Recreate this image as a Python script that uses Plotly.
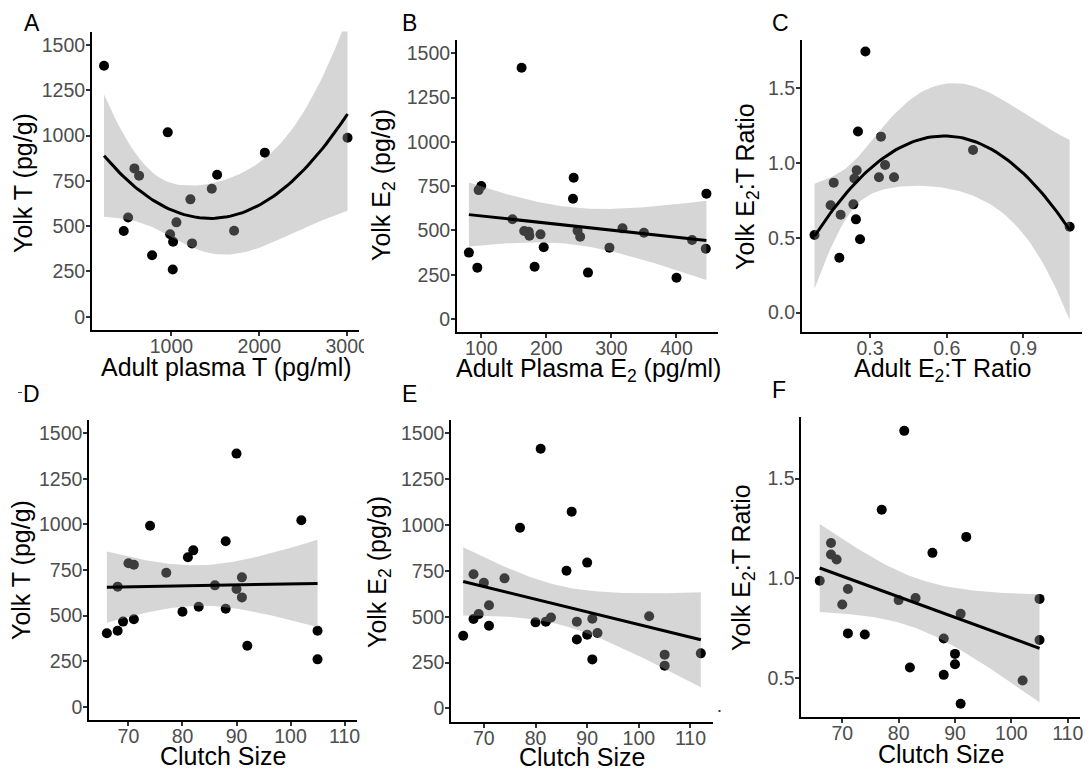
import numpy as np
import plotly.graph_objects as go

# ---------------- data ----------------
# Panel A: adult plasma T vs yolk T
a_plasma_t = [233, 457, 507, 579, 632, 780, 958, 985, 1019, 1015, 1057, 1216, 1235, 1459, 1520, 1713, 2063, 3004]
a_yolk_t = [1386, 473, 548, 819, 779, 339, 1018, 455, 414, 261, 521, 648, 405, 707, 784, 475, 906, 988]

# Panel B: adult plasma E2 vs yolk E2
b_plasma_e2 = [81, 94, 96, 100, 148, 162, 166, 173, 174, 182, 191, 196, 242, 241, 248, 252, 264, 297, 317, 350, 400, 424, 446, 445]
b_yolk_e2 = [375, 290, 728, 751, 563, 1419, 497, 493, 470, 295, 478, 405, 798, 679, 499, 465, 262, 403, 512, 487, 233, 446, 708, 397]

# Panel C: adult E2:T ratio vs yolk E2:T ratio
c_adult_ratio = [0.083, 0.146, 0.158, 0.180, 0.185, 0.235, 0.239, 0.245, 0.248, 0.253, 0.261, 0.282, 0.335, 0.343, 0.359, 0.394, 0.703, 1.081]
c_yolk_ratio = [0.519, 0.717, 0.868, 0.367, 0.654, 0.723, 0.895, 0.623, 0.950, 1.209, 0.490, 1.743, 0.904, 1.175, 0.986, 0.904, 1.086, 0.574]

# Panel D: clutch size vs yolk T
d_clutch = [66, 68, 69, 71, 68, 70, 71, 74, 77, 80, 81, 82, 83, 86, 88, 88, 90, 90, 91, 91, 92, 102, 105, 105]
d_yolk_t = [403, 417, 467, 480, 659, 787, 779, 993, 735, 521, 820, 858, 549, 666, 908, 538, 1389, 646, 710, 600, 335, 1023, 417, 260]

# Panel E: clutch size vs yolk E2
e_clutch = [66, 68, 68, 69, 70, 71, 71, 74, 77, 80, 81, 82, 83, 86, 87, 88, 88, 90, 90, 91, 91, 92, 102, 105, 105, 112]
e_yolk_e2 = [396, 731, 487, 514, 685, 562, 451, 709, 985, 469, 1416, 473, 496, 751, 1073, 473, 376, 795, 402, 489, 267, 411, 502, 293, 233, 300]

# Panel F: clutch size vs yolk E2:T ratio
f_clutch = [66, 68, 68, 69, 70, 71, 71, 74, 77, 80, 81, 82, 83, 86, 88, 88, 90, 90, 91, 91, 92, 102, 105, 105]
f_yolk_ratio = [0.987, 1.176, 1.119, 1.094, 0.868, 0.946, 0.723, 0.717, 1.343, 0.890, 1.739, 0.552, 0.900, 1.127, 0.697, 0.515, 0.620, 0.568, 0.821, 0.370, 1.207, 0.487, 0.896, 0.690]

# ---------------- helpers ----------------
def t975(df):
    z = 1.959963985
    g1 = (z**3 + z) / 4
    g2 = (5*z**5 + 16*z**3 + 3*z) / 96
    g3 = (3*z**7 + 19*z**5 + 17*z**3 - 15*z) / 384
    g4 = (79*z**9 + 776*z**7 + 1482*z**5 - 1920*z**3 - 945*z) / 92160
    return z + g1/df + g2/df**2 + g3/df**3 + g4/df**4

def lm_fit(x, y, degree):
    x = np.asarray(x, float); y = np.asarray(y, float)
    X = np.vander(x, degree + 1, increasing=True)
    beta, *_ = np.linalg.lstsq(X, y, rcond=None)
    resid = y - X @ beta
    df = len(x) - (degree + 1)
    s2 = resid @ resid / df
    XtXi = np.linalg.inv(X.T @ X)
    xs = np.linspace(x.min(), x.max(), 80)
    Xs = np.vander(xs, degree + 1, increasing=True)
    fit = Xs @ beta
    se = np.sqrt(np.einsum('ij,jk,ik->i', Xs, XtXi, Xs) * s2)
    t = t975(df)
    return xs, fit, fit - t*se, fit + t*se

W, H = 1089, 769
def xd(a, b): return [a / W, b / W]
def yd(top, bot): return [1 - bot / H, 1 - top / H]

YT = [0, 250, 500, 750, 1000, 1250, 1500]
panels = [
    dict(x=a_plasma_t, y=a_yolk_t, deg=2, xdom=xd(92, 359.3), ydom=yd(31.5, 330.3),
         xr=[96, 3138], yr=[-75, 1575], xt=[1000, 2000, 3000], yt=YT, ytxt=None,
         xtitle='Adult plasma T (pg/ml)', xtpos=(226, 367),
         ytitle='Yolk T (pg/g)', ytpos=(23, 183)),
    dict(x=b_plasma_e2, y=b_yolk_e2, deg=1, xdom=xd(457, 718.3), ydom=yd(40.1, 332.3),
         xr=[62.75, 464.25], yr=[-75, 1575], xt=[100, 200, 300, 400], yt=YT, ytxt=None,
         xtitle='Adult Plasma E<sub>2</sub> (pg/ml)', xtpos=(588, 370),
         ytitle='Yolk E<sub>2</sub> (pg/g)', ytpos=(383, 185)),
    dict(x=c_adult_ratio, y=c_yolk_ratio, deg=2, xdom=xd(802, 1081.7), ydom=yd(40, 332.3),
         xr=[0.034, 1.128], yr=[-0.131, 1.82], xt=[0.3, 0.6, 0.9], yt=[0, 0.5, 1.0, 1.5],
         ytxt=['0.0', '0.5', '1.0', '1.5'],
         xtitle='Adult E<sub>2</sub>:T Ratio', xtpos=(942, 370),
         ytitle='Yolk E<sub>2</sub>:T Ratio', ytpos=(747, 187)),
    dict(x=d_clutch, y=d_yolk_t, deg=1, xdom=xd(89.3, 356.7), ydom=yd(419.7, 720.4),
         xr=[62.75, 112.25], yr=[-75, 1575], xt=[70, 80, 90, 100, 110], yt=YT, ytxt=None,
         xtitle='Clutch Size', xtpos=(223, 756),
         ytitle='Yolk T (pg/g)', ytpos=(21, 570)),
    dict(x=e_clutch, y=e_yolk_e2, deg=1, xdom=xd(451.3, 712.7), ydom=yd(419.6, 722.1),
         xr=[63.7, 114.3], yr=[-75, 1575], xt=[70, 80, 90, 100, 110], yt=YT, ytxt=None,
         xtitle='Clutch Size', xtpos=(582, 757),
         ytitle='Yolk E<sub>2</sub> (pg/g)', ytpos=(379, 572)),
    dict(x=f_clutch, y=f_yolk_ratio, deg=1, xdom=xd(801.4, 1080.4), ydom=yd(417.3, 717.3),
         xr=[62.75, 112.25], yr=[0.302, 1.807], xt=[70, 80, 90, 100, 110], yt=[0.5, 1.0, 1.5],
         ytxt=['0.5', '1.0', '1.5'],
         xtitle='Clutch Size', xtpos=(941, 754),
         ytitle='Yolk E<sub>2</sub>:T Ratio', ytpos=(743, 568)),
]

FONT = 'Liberation Sans, Arial, Helvetica, sans-serif'
fig = go.Figure()
layout = dict(width=W, height=H, margin=dict(l=0, r=0, t=0, b=0, autoexpand=False),
              paper_bgcolor='white', plot_bgcolor='white', showlegend=False,
              font=dict(family=FONT, color='black'))
annotations = []

for i, p in enumerate(panels, start=1):
    xa = 'x' if i == 1 else f'x{i}'
    ya = 'y' if i == 1 else f'y{i}'
    # points first
    fig.add_trace(go.Scatter(x=p['x'], y=p['y'], mode='markers', xaxis=xa, yaxis=ya,
                             marker=dict(size=10, color='black', line=dict(width=0)),
                             hoverinfo='skip'))
    xs, fit, lo, hi = lm_fit(p['x'], p['y'], p['deg'])
    # confidence ribbon drawn over the points (as in ggplot geom_smooth)
    fig.add_trace(go.Scatter(x=np.concatenate([xs, xs[::-1]]), y=np.concatenate([hi, lo[::-1]]),
                             mode='lines', fill='toself', fillcolor='rgba(153,153,153,0.4)',
                             line=dict(width=0), xaxis=xa, yaxis=ya, hoverinfo='skip'))
    # fitted line
    fig.add_trace(go.Scatter(x=xs, y=fit, mode='lines', line=dict(color='black', width=3),
                             xaxis=xa, yaxis=ya, hoverinfo='skip'))

    axis_common = dict(showgrid=False, zeroline=False, showline=True, linecolor='black', linewidth=2,
                       ticks='outside', ticklen=4, tickwidth=1.5, tickcolor='#333333',
                       automargin=False,
                       tickfont=dict(size=19.5, color='#4d4d4d', family=FONT))
    xkey = 'xaxis' if i == 1 else f'xaxis{i}'
    ykey = 'yaxis' if i == 1 else f'yaxis{i}'
    layout[xkey] = dict(axis_common, domain=p['xdom'], range=p['xr'], anchor=ya,
                        tickmode='array', tickvals=p['xt'], ticklabelstandoff=-7)
    ydict = dict(axis_common, domain=p['ydom'], range=p['yr'], anchor=xa,
                 tickmode='array', tickvals=p['yt'], ticklabelstandoff=-3)
    if p['ytxt'] is not None:
        ydict['ticktext'] = p['ytxt']
    layout[ykey] = ydict

    tx, ty = p['xtpos']
    annotations.append(dict(text=p['xtitle'], x=tx / W, y=1 - ty / H, xref='paper', yref='paper',
                            xanchor='center', yanchor='middle', showarrow=False,
                            font=dict(size=25, color='black', family=FONT)))
    tx, ty = p['ytpos']
    annotations.append(dict(text=p['ytitle'], x=tx / W, y=1 - ty / H, xref='paper', yref='paper',
                            xanchor='center', yanchor='middle', showarrow=False, textangle=-90,
                            font=dict(size=25, color='black', family=FONT)))

letters = [('A', 22, 23), ('B', 400, 23), ('C', 770, 23), ('D', 21, 394), ('E', 400, 394), ('F', 770, 390)]
for t, x, y in letters:
    annotations.append(dict(text=t, x=x / W, y=1 - y / H, xref='paper', yref='paper',
                            xanchor='left', yanchor='middle', showarrow=False,
                            font=dict(size=23, color='black', family=FONT)))
layout['annotations'] = annotations

layout['shapes'] = [
    # panel A's last x tick label is cropped at the panel edge in the original figure
    dict(type='rect', xref='paper', yref='paper', layer='above',
         x0=364 / W, x1=385 / W, y0=1 - 356 / H, y1=1 - 334 / H,
         fillcolor='white', line=dict(width=0)),
    # small stray marks present in the original composite
    dict(type='line', xref='paper', yref='paper', layer='above',
         x0=18 / W, x1=22 / W, y0=1 - 392.5 / H, y1=1 - 392.5 / H,
         line=dict(color='#444444', width=1)),
    dict(type='rect', xref='paper', yref='paper', layer='above',
         x0=718.5 / W, x1=720.5 / W, y0=1 - 712 / H, y1=1 - 710 / H,
         fillcolor='#333333', line=dict(width=0)),
]

fig.update_layout(**layout)
fig.write_html('out.html', config={'displayModeBar': False},
               post_script="document.body.style.margin='0px';document.body.style.padding='0px';")
